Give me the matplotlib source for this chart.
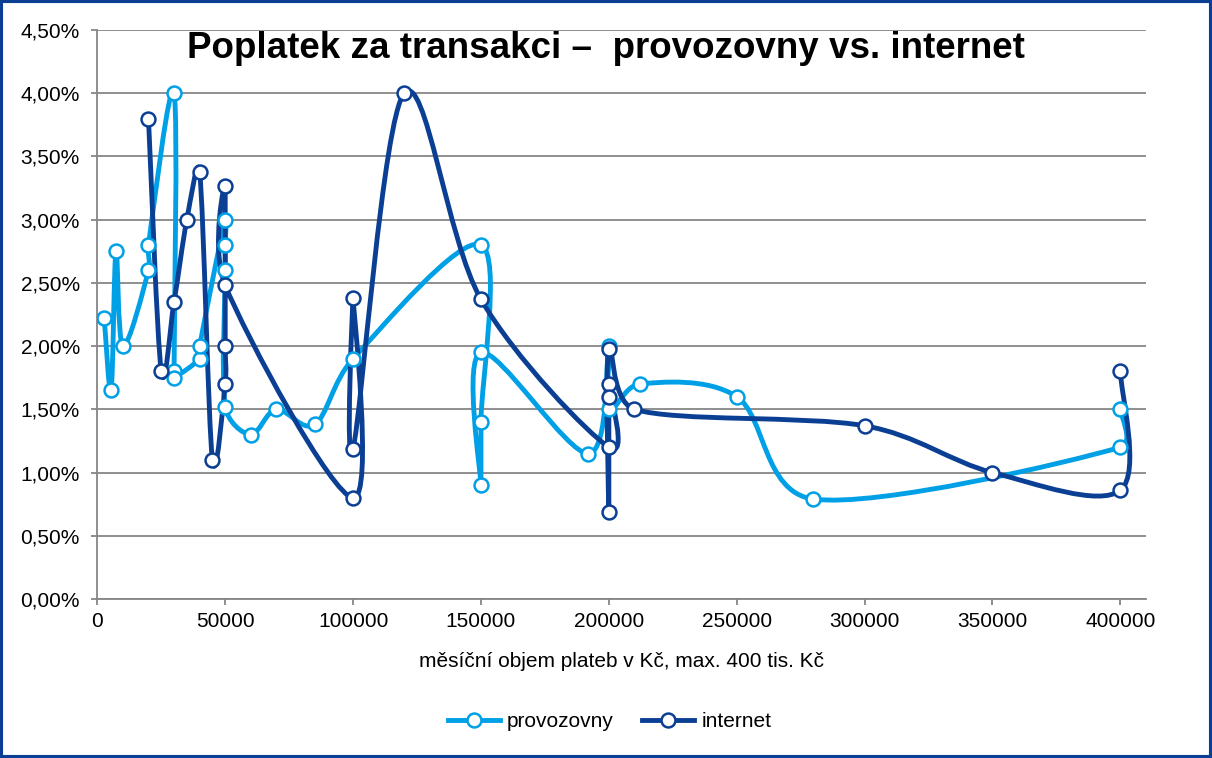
import numpy as np
import matplotlib
matplotlib.use("Agg")
import matplotlib.pyplot as plt
from matplotlib.path import Path
from matplotlib.patches import PathPatch, Rectangle
from matplotlib.lines import Line2D
from matplotlib.ticker import FuncFormatter, MultipleLocator

plt.rcParams['font.family'] = ['Liberation Sans', 'DejaVu Sans']

# data (fee in %, monthly volume in CZK), in the order the series are drawn
prov_x = [2700, 5400, 7300, 10000, 20000, 20000, 30000, 30000, 30000, 40000, 40000,
          50000, 50000, 50000, 50000, 60000, 70000, 85000, 100000, 150000, 150000,
          150000, 150000, 192000, 200000, 200000, 212000, 250000, 280000, 400000, 400000]
prov_y = [2.22, 1.65, 2.75, 2.00, 2.60, 2.80, 4.00, 1.80, 1.75, 1.90, 2.00,
          3.00, 2.80, 2.60, 1.52, 1.30, 1.50, 1.38, 1.90, 2.80, 1.40,
          0.90, 1.95, 1.15, 2.00, 1.50, 1.70, 1.60, 0.79, 1.20, 1.50]

net_x = [20000, 25000, 30000, 35000, 40000, 45000, 50000, 50000, 50000, 50000,
         100000, 100000, 100000, 120000, 150000, 200000, 200000, 200000, 200000, 200000,
         210000, 300000, 350000, 400000, 400000]
net_y = [3.80, 1.80, 2.35, 3.00, 3.38, 1.10, 1.70, 2.00, 3.27, 2.48,
         0.80, 2.38, 1.19, 4.00, 2.37, 1.20, 1.70, 1.60, 0.69, 1.98,
         1.50, 1.37, 1.00, 0.86, 1.80]

c_prov = '#00A0E6'
c_net = '#0B3F94'

XMAX, YMAX = 410000, 4.5
FIG_W, FIG_H = 1212, 758
AX = [0.0803, 0.2098, 0.9455 - 0.0803, 0.9604 - 0.2098]
sx = AX[2] * FIG_W / XMAX   # px per x unit
sy = AX[3] * FIG_H / YMAX   # px per y unit


def smooth_path(xs, ys, k=0.4):
    # excel-like smoothed line: bezier with neighbour tangents / 6,
    # worked out in pixels and limited by the segment length
    p = np.column_stack([np.array(xs) * sx, np.array(ys) * sy]).astype(float)
    n = len(p)

    def ctrl(a, b, seg):
        d = b - a
        L = np.hypot(*d)
        if L == 0:
            return np.zeros(2)
        return d / L * min(L / 6, seg * k)

    verts = [p[0]]
    codes = [Path.MOVETO]
    for i in range(n - 1):
        p0 = p[i - 1] if i > 0 else p[i]
        p3 = p[i + 2] if i + 2 < n else p[i + 1]
        seg = np.hypot(*(p[i + 1] - p[i]))
        c1 = p[i] + ctrl(p0, p[i + 1], seg)
        c2 = p[i + 1] - ctrl(p[i], p3, seg)
        verts += [c1, c2, p[i + 1]]
        codes += [Path.CURVE4] * 3
    verts = np.array(verts) / [sx, sy]
    return Path(verts, codes)


fig = plt.figure(figsize=(FIG_W / 100, FIG_H / 100), dpi=100)
ax = fig.add_axes(AX)

LW, MS, MEW = 3.5, 10, 1.8
for xs, ys, col in [(prov_x, prov_y, c_prov), (net_x, net_y, c_net)]:
    patch = PathPatch(smooth_path(xs, ys), facecolor='none', edgecolor=col,
                      lw=LW, capstyle='round', joinstyle='round', zorder=3)
    ax.add_patch(patch)
    ax.plot(xs, ys, ls='none', marker='o', ms=MS, mfc='white', mec=col,
            mew=MEW, zorder=4)

ax.set_xlim(0, XMAX)
ax.set_ylim(0, YMAX)
ax.xaxis.set_major_locator(MultipleLocator(50000))
ax.yaxis.set_major_locator(MultipleLocator(0.5))
ax.yaxis.set_major_formatter(FuncFormatter(lambda v, p: f"{v:.2f}%".replace('.', ',')))
ax.xaxis.set_major_formatter(FuncFormatter(lambda v, p: f"{int(v)}"))
ax.grid(axis='y', color='#868686', lw=1.3)
ax.set_axisbelow(True)
for s in ['top', 'right']:
    ax.spines[s].set_visible(False)
for s in ['left', 'bottom']:
    ax.spines[s].set_color('#868686')
    ax.spines[s].set_linewidth(1.3)
ax.tick_params(colors='#868686', labelcolor='black', labelsize=15, length=4.5, width=1.3)
ax.tick_params(axis='y', pad=8)
ax.tick_params(axis='x', pad=5)

ax.set_xlabel("měsíční objem plateb v Kč, max. 400 tis. Kč", fontsize=15, labelpad=15)

fig.text(0.5, 1 - 48 / 758, "Poplatek za transakci –  provozovny vs. internet",
         ha='center', va='center', fontsize=26.5, fontweight='bold')

handles = [Line2D([], [], color=c_prov, lw=LW, marker='o', ms=MS, mfc='white', mec=c_prov, mew=MEW),
           Line2D([], [], color=c_net, lw=LW, marker='o', ms=MS, mfc='white', mec=c_net, mew=MEW)]
fig.legend(handles, ['provozovny', 'internet'], loc='center', bbox_to_anchor=(0.503, 0.048),
           ncol=2, frameon=False, fontsize=15, handlelength=2.5, handletextpad=0.35,
           columnspacing=1.35)

fig.patches.append(Rectangle((0, 0), 1, 1, transform=fig.transFigure, fill=False,
                             edgecolor='#0B3F94', lw=4.4))

fig.savefig("out.png", dpi=100)
